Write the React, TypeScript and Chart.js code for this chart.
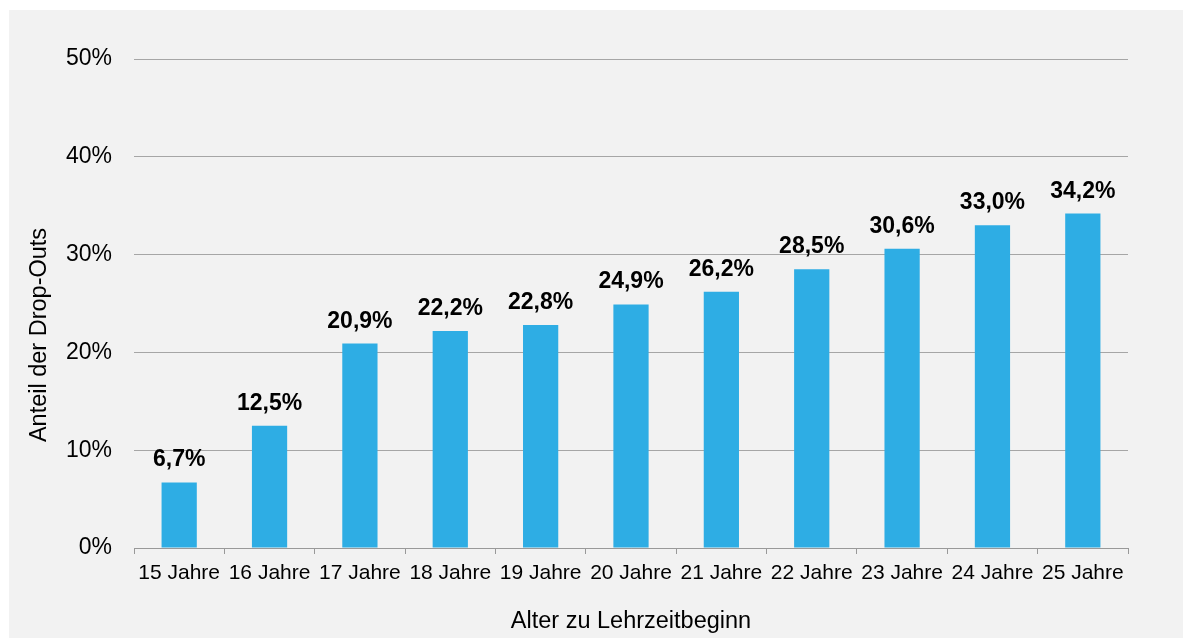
import React, { useEffect, useRef } from "react";
import { Chart, registerables } from "chart.js";

Chart.register(...registerables);

const categories = ["15 Jahre", "16 Jahre", "17 Jahre", "18 Jahre", "19 Jahre", "20 Jahre", "21 Jahre", "22 Jahre", "23 Jahre", "24 Jahre", "25 Jahre"];
const dropOutShare = [6.7, 12.5, 20.9, 22.2, 22.8, 24.9, 26.2, 28.5, 30.6, 33.0, 34.2];
const yTicks = [0, 10, 20, 30, 40, 50];
const xTitle = "Alter zu Lehrzeitbeginn";
const yTitle = "Anteil der Drop-Outs";

const fmt = (v: number) => v.toFixed(1).replace(".", ",") + "%";

const W = 1174;
const H = 628;

export default function App() {
  const ref = useRef<HTMLCanvasElement | null>(null);

  useEffect(() => {
    if (!ref.current) return;
    const font = "'Liberation Sans', Arial, sans-serif";
    const labelPlugin = {
      id: "barLabels",
      afterDatasetsDraw(chart: any) {
        const ctx = chart.ctx;
        const meta = chart.getDatasetMeta(0);
        ctx.save();
        ctx.font = `bold 23px ${font}`;
        ctx.fillStyle = "#000";
        ctx.textAlign = "center";
        ctx.textBaseline = "alphabetic";
        meta.data.forEach((bar: any, i: number) => {
          ctx.fillText(fmt(dropOutShare[i]), bar.x, bar.y - 16);
        });
        ctx.restore();
      },
      afterDraw(chart: any) {
        const ctx = chart.ctx;
        ctx.save();
        ctx.font = `23.5px ${font}`;
        ctx.fillStyle = "#000";
        ctx.textAlign = "center";
        ctx.textBaseline = "middle";
        ctx.translate(31, 325);
        ctx.rotate(-Math.PI / 2);
        ctx.fillText(yTitle, 0, 0);
        ctx.restore();
      },
    };

    const chart = new Chart(ref.current, {
      type: "bar",
      data: {
        labels: categories,
        datasets: [
          {
            data: dropOutShare,
            backgroundColor: "#2eade4",
            borderWidth: 0,
            barPercentage: 0.39,
            categoryPercentage: 1,
          },
        ],
      },
      options: {
        responsive: false,
        animation: false,
        layout: { padding: { left: 0, right: 55, top: 49, bottom: 0 } },
        plugins: {
          legend: { display: false },
          tooltip: { enabled: false },
        },
        scales: {
          x: {
            offset: true,
            afterFit: (s: any) => {
              s.height = 90;
            },
            grid: {
              display: true,
              drawOnChartArea: false,
              drawTicks: true,
              tickLength: 6,
              color: "#999999",
              offset: true,
            },
            border: { display: true, color: "#999999", width: 1 },
            ticks: {
              color: "#000",
              font: { family: font, size: 21 },
              padding: 7,
              maxRotation: 0,
              autoSkip: false,
            },
            title: {
              display: true,
              text: xTitle,
              color: "#000",
              font: { family: font, size: 23.5 },
              padding: { top: 0, bottom: 2 },
            },
          },
          y: {
            min: 0,
            max: 50,
            afterFit: (s: any) => {
              s.width = 125;
            },
            afterBuildTicks: (s: any) => {
              s.ticks = yTicks.map((v) => ({ value: v }));
            },
            grid: {
              display: true,
              drawTicks: false,
              color: "#a6a6a6",
              lineWidth: 1,
            },
            border: { display: false },
            ticks: {
              color: "#000",
              font: { family: font, size: 23 },
              padding: 22,
              callback: (v: any) => v + "%",
            },
          },
        },
      },
      plugins: [labelPlugin],
    });
    return () => chart.destroy();
  }, []);

  return (
    <div
      style={{
        position: "absolute",
        left: 9,
        top: 10,
        width: W,
        height: H,
        background: "#f2f2f2",
      }}
    >
      <canvas ref={ref} width={W} height={H} style={{ display: "block", width: W, height: H }} />
    </div>
  );
}
